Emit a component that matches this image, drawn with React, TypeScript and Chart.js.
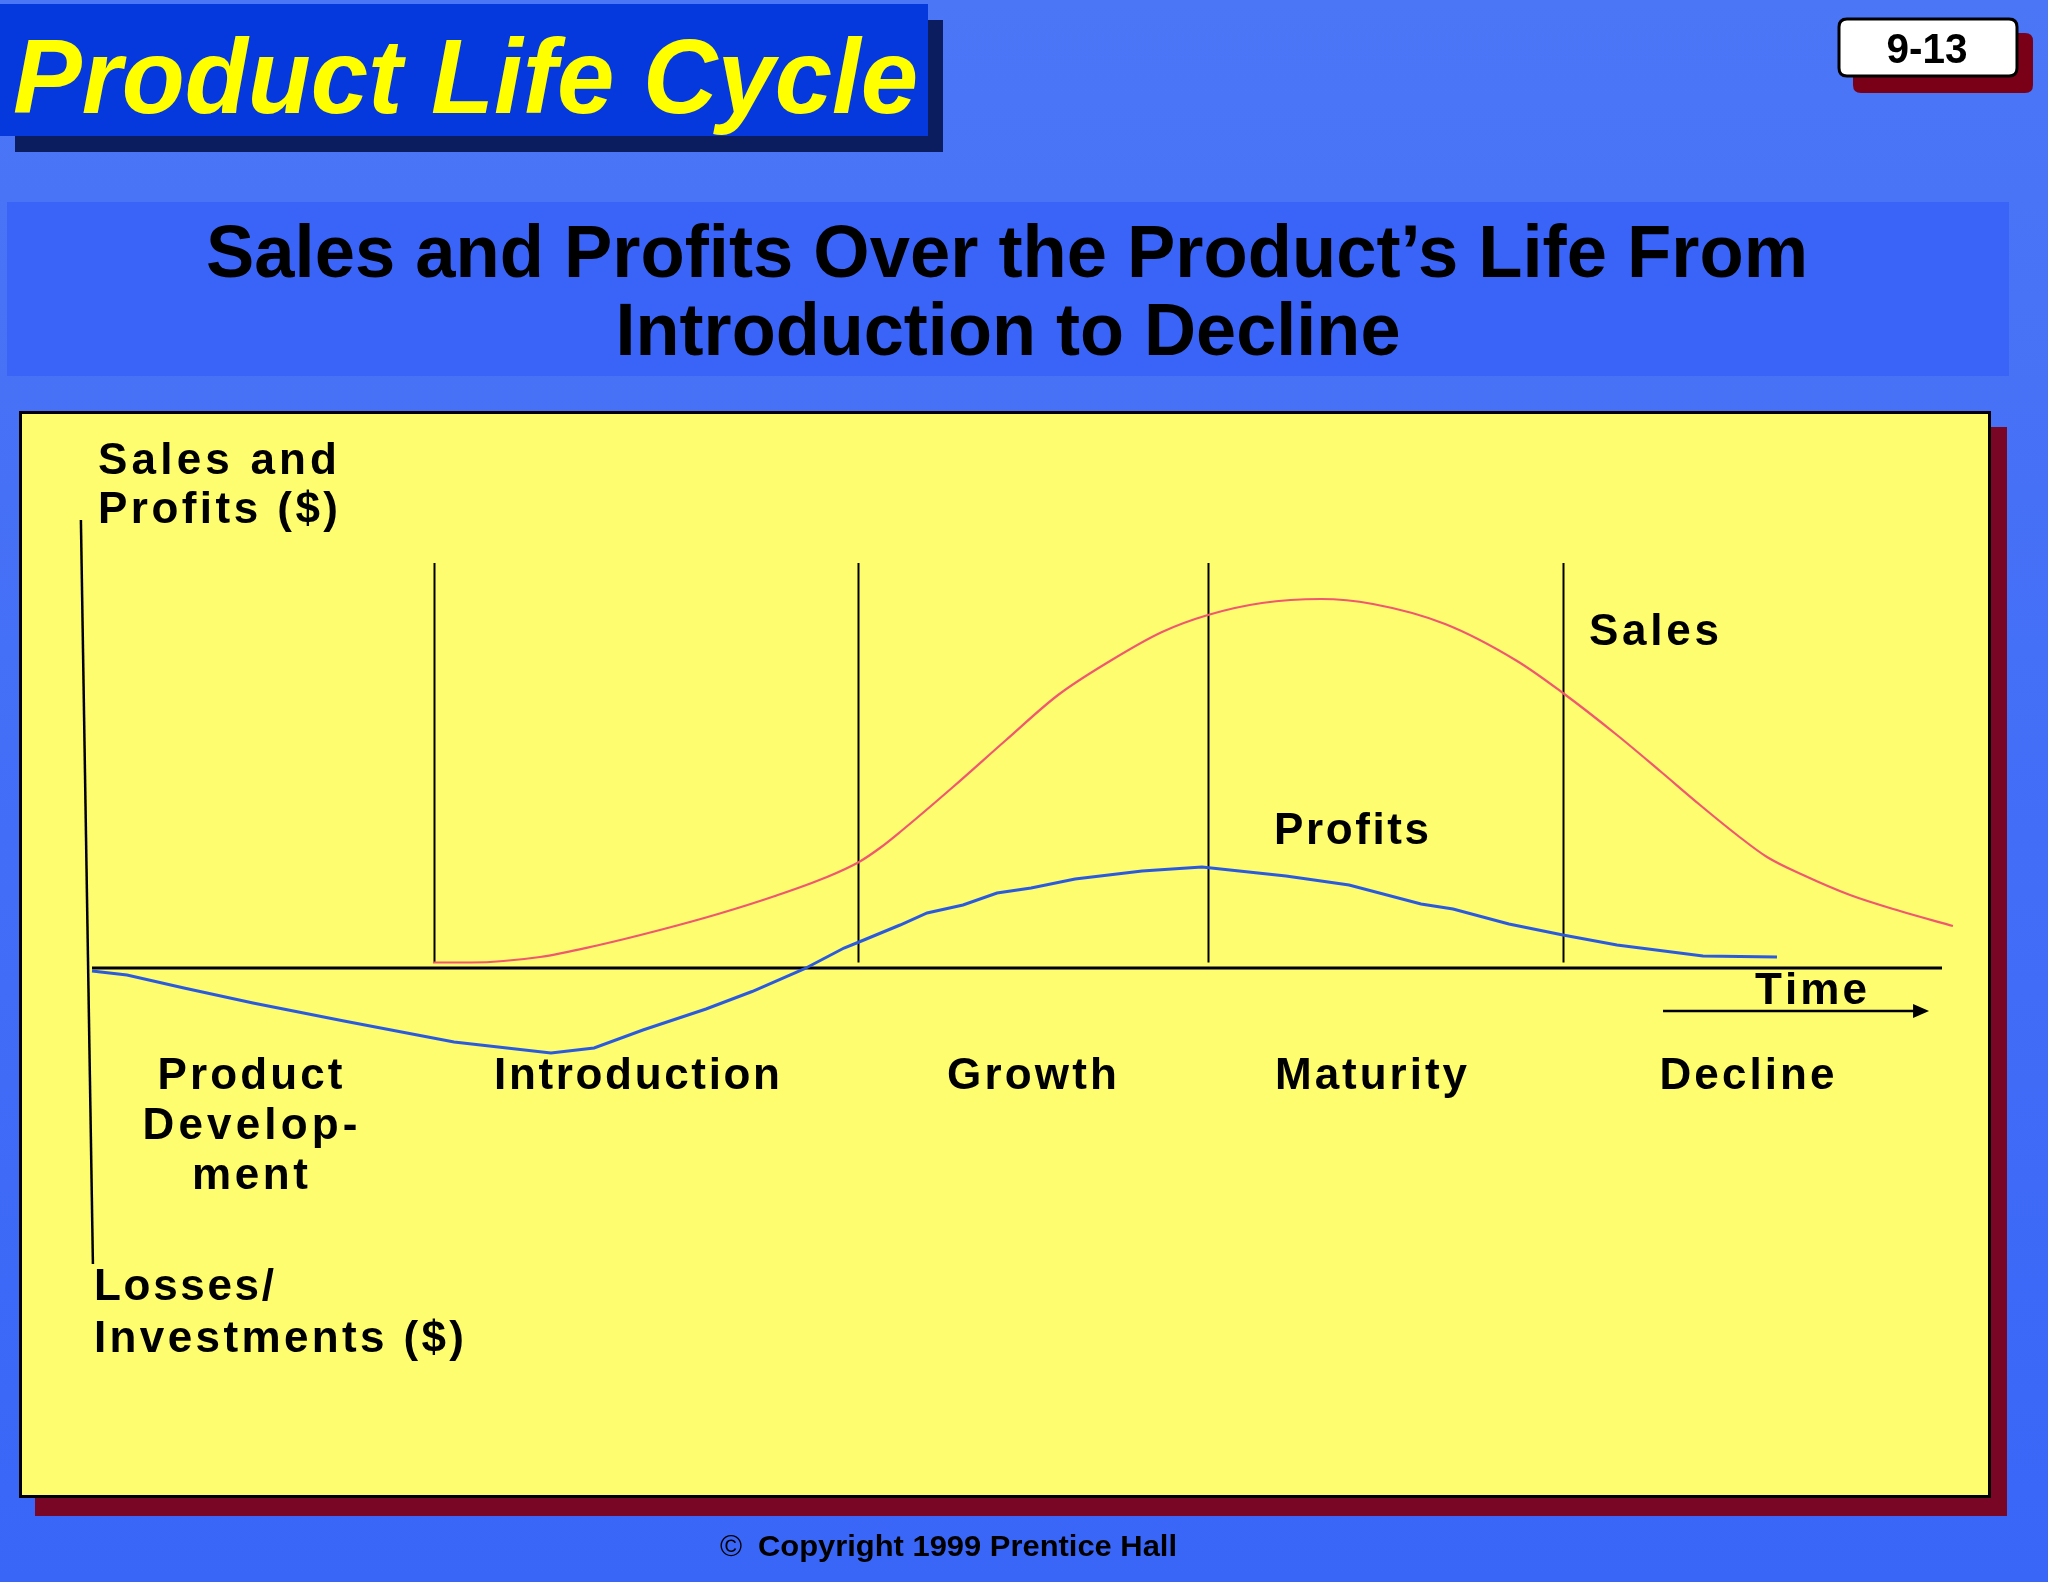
import React, { useEffect, useRef } from "react";
import { Chart, registerables } from "chart.js";

Chart.register(...registerables);

// ---- Data (time units on x, $ units on y) ----
const salesTime = [
  18.43, 20.49, 24.22, 27.3, 30.7, 33.84, 36.92, 39.73, 41.46, 42.59, 43.68, 46.54,
  49.41, 52.22, 55.03, 57.84, 60.32, 63.24, 66.43, 69.24, 73.14, 77.03, 79.51, 82.43,
  84.76, 86.92, 88.92, 90.54, 92.49, 95.03, 97.73, 100.59,
];
const salesValue = [
  1.38, 1.38, 2.75, 5.63, 9.5, 13.5, 18, 22.75, 26.5, 30, 34, 45.25,
  57, 68.25, 76.75, 84, 88.25, 91.25, 92.25, 91, 86, 76.75, 68.75, 58.25,
  49.25, 40.75, 33.25, 27.75, 23.25, 18.25, 14.25, 10.5,
];
const profitTime = [
  0, 1.89, 4.97, 8.7, 13.62, 19.57, 24.81, 27.14, 29.78, 33.19, 35.68, 38.49,
  40.65, 41.46, 43.68, 45.14, 47.08, 48.92, 50.76, 53.14, 56.76, 60.0, 64.54, 67.95,
  71.84, 73.57, 76.59, 79.51, 82.43, 87.08, 91.08,
];
const profitValue = [
  -0.75, -1.75, -5, -8.75, -13.25, -18.5, -21.25, -20, -15.5, -10.25, -5.88, -0.25,
  5, 6.5, 10.75, 13.75, 15.75, 18.75, 20, 22.25, 24.25, 25.25, 23, 20.75,
  16, 14.75, 11, 8.25, 5.75, 3, 2.75,
];
const stageBoundaries = [18.49, 41.41, 60.35, 79.49];
const stageLabels = [["Product", "Develop-", "ment"], ["Introduction"], ["Growth"], ["Maturity"], ["Decline"]];

const W = 2048;
const H = 1582;
const FONT = '"Liberation Sans", Arial, Helvetica, sans-serif';

function fitText(ctx: CanvasRenderingContext2D, text: string, x: number, y: number, font: string, width: number, align: "left" | "center" = "left") {
  ctx.save();
  ctx.font = font;
  ctx.textAlign = "left";
  ctx.textBaseline = "alphabetic";
  const m = ctx.measureText(text).width;
  const sx = width / m;
  const left = align === "center" ? x - width / 2 : x;
  ctx.translate(left, y);
  ctx.scale(sx, 1);
  ctx.fillText(text, 0, 0);
  ctx.restore();
}

function spacedText(ctx: CanvasRenderingContext2D, text: string, x: number, y: number, width: number, align: "left" | "center" = "left") {
  ctx.save();
  ctx.font = `bold 44px ${FONT}`;
  ctx.textAlign = "left";
  ctx.textBaseline = "alphabetic";
  ctx.fillStyle = "#000";
  const chars = Array.from(text);
  const widths = chars.map((c) => ctx.measureText(c).width);
  const total = widths.reduce((a, b) => a + b, 0);
  const gap = chars.length > 1 ? (width - total) / (chars.length - 1) : 0;
  let cx = align === "center" ? x - width / 2 : x;
  chars.forEach((c, i) => {
    ctx.fillText(c, cx, y);
    cx += widths[i] + gap;
  });
  ctx.restore();
}

function roundRect(ctx: CanvasRenderingContext2D, x: number, y: number, w: number, h: number, r: number) {
  ctx.beginPath();
  ctx.moveTo(x + r, y);
  ctx.lineTo(x + w - r, y);
  ctx.quadraticCurveTo(x + w, y, x + w, y + r);
  ctx.lineTo(x + w, y + h - r);
  ctx.quadraticCurveTo(x + w, y + h, x + w - r, y + h);
  ctx.lineTo(x + r, y + h);
  ctx.quadraticCurveTo(x, y + h, x, y + h - r);
  ctx.lineTo(x, y + r);
  ctx.quadraticCurveTo(x, y, x + r, y);
  ctx.closePath();
}

const slidePlugin = {
  id: "slide",
  beforeDraw(chart: any) {
    const ctx: CanvasRenderingContext2D = chart.ctx;
    ctx.save();
    const g = ctx.createLinearGradient(0, 0, 0, H);
    g.addColorStop(0, "#4b76f6");
    g.addColorStop(1, "#3a66f8");
    ctx.fillStyle = g;
    ctx.fillRect(0, 0, W, H);

    // title
    ctx.fillStyle = "#0b1d5e";
    ctx.fillRect(15, 20, 928, 132);
    ctx.fillStyle = "#0639dd";
    ctx.fillRect(0, 4, 928, 132);
    ctx.fillStyle = "#ffff00";
    fitText(ctx, "Product Life Cycle", 13, 113, `italic bold 106px ${FONT}`, 905);

    // badge
    ctx.fillStyle = "#7a0018";
    roundRect(ctx, 1853, 33, 180, 60, 8);
    ctx.fill();
    ctx.fillStyle = "#ffffff";
    roundRect(ctx, 1839, 19, 178, 57, 8);
    ctx.fill();
    ctx.lineWidth = 3;
    ctx.strokeStyle = "#000";
    ctx.stroke();
    ctx.fillStyle = "#000";
    fitText(ctx, "9-13", 1927, 63, `bold 43px ${FONT}`, 81, "center");

    // subtitle
    ctx.fillStyle = "#3a64f7";
    ctx.fillRect(7, 202, 2002, 174);
    ctx.fillStyle = "#000";
    fitText(ctx, "Sales and Profits Over the Product\u2019s Life From", 1007, 277, `bold 75px ${FONT}`, 1602, "center");
    fitText(ctx, "Introduction to Decline", 1008, 355, `bold 75px ${FONT}`, 785, "center");

    // panel
    ctx.fillStyle = "#7a0626";
    ctx.fillRect(35, 427, 1972, 1089);
    ctx.fillStyle = "#fefd6f";
    ctx.fillRect(19, 411, 1972, 1087);
    ctx.lineWidth = 3;
    ctx.strokeStyle = "#000";
    ctx.strokeRect(20.5, 412.5, 1969, 1084);

    // copyright
    ctx.fillStyle = "#000";
    ctx.font = `30px ${FONT}`;
    ctx.textBaseline = "alphabetic";
    ctx.textAlign = "left";
    ctx.fillText("\u00A9", 720, 1556);
    fitText(ctx, "Copyright 1999 Prentice Hall", 758, 1556, `bold 30px ${FONT}`, 419);
    ctx.restore();
  },
  beforeDatasetsDraw(chart: any) {
    const ctx: CanvasRenderingContext2D = chart.ctx;
    const xs = chart.scales.x;
    const ys = chart.scales.y;
    ctx.save();
    ctx.strokeStyle = "#000";
    // y axis (slightly slanted in the original)
    ctx.lineWidth = 2.5;
    ctx.beginPath();
    ctx.moveTo(xs.getPixelForValue(-0.6), ys.getPixelForValue(112));
    ctx.lineTo(xs.getPixelForValue(0.05), ys.getPixelForValue(-74));
    ctx.stroke();
    // x axis
    ctx.lineWidth = 3;
    ctx.beginPath();
    ctx.moveTo(xs.getPixelForValue(0), ys.getPixelForValue(0));
    ctx.lineTo(xs.getPixelForValue(100), ys.getPixelForValue(0));
    ctx.stroke();
    // stage boundaries
    ctx.lineWidth = 2;
    stageBoundaries.forEach((b) => {
      const px = Math.round(xs.getPixelForValue(b)) + 0.5;
      ctx.beginPath();
      ctx.moveTo(px, ys.getPixelForValue(101.25));
      ctx.lineTo(px, ys.getPixelForValue(1.4));
      ctx.stroke();
    });
    ctx.restore();
  },
  afterDatasetsDraw(chart: any) {
    const ctx: CanvasRenderingContext2D = chart.ctx;
    const xs = chart.scales.x;
    const ys = chart.scales.y;
    ctx.save();
    // axis titles
    spacedText(ctx, "Sales and", 98, 474, 239);
    spacedText(ctx, "Profits ($)", 98, 523, 240);
    spacedText(ctx, "Losses/", 94, 1300, 180);
    spacedText(ctx, "Investments ($)", 94, 1352, 370);
    // series labels
    spacedText(ctx, "Sales", 1589, 645, 130);
    spacedText(ctx, "Profits", 1274, 844, 155);
    spacedText(ctx, "Time", 1755, 1004, 112);
    // stage labels
    const centers = [250, 637, 1032, 1371, 1747];
    const widths: number[][] = [[185, 215, 116], [286], [170], [192], [175]];
    stageLabels.forEach((lines, i) => {
      lines.forEach((t, j) => {
        spacedText(ctx, t, centers[i], 1089 + j * 50, widths[i][j], "center");
      });
    });
    // time arrow
    const ay = ys.getPixelForValue(-10.75);
    const ax0 = xs.getPixelForValue(84.92);
    const ax1 = xs.getPixelForValue(99.3);
    ctx.strokeStyle = "#000";
    ctx.fillStyle = "#000";
    ctx.lineWidth = 2.5;
    ctx.beginPath();
    ctx.moveTo(ax0, ay);
    ctx.lineTo(ax1 - 12, ay);
    ctx.stroke();
    ctx.beginPath();
    ctx.moveTo(ax1, ay);
    ctx.lineTo(ax1 - 16, ay - 7);
    ctx.lineTo(ax1 - 16, ay + 7);
    ctx.closePath();
    ctx.fill();
    ctx.restore();
  },
};

export default function App() {
  const ref = useRef<HTMLCanvasElement | null>(null);
  useEffect(() => {
    if (!ref.current) return;
    const chart = new Chart(ref.current, {
      type: "scatter",
      data: {
        datasets: [
          {
            label: "Sales",
            data: salesTime.map((t, i) => ({ x: t, y: salesValue[i] })),
            showLine: true,
            borderColor: "#f0586f",
            borderWidth: 2.2,
            pointRadius: 0,
            cubicInterpolationMode: "monotone",
            fill: false,
            clip: false,
          },
          {
            label: "Profits",
            data: profitTime.map((t, i) => ({ x: t, y: profitValue[i] })),
            showLine: true,
            borderColor: "#2b5bdc",
            borderWidth: 3,
            pointRadius: 0,
            tension: 0,
            fill: false,
            clip: false,
          },
        ],
      } as any,
      options: {
        animation: false,
        responsive: false,
        devicePixelRatio: 1,
        events: [],
        layout: { autoPadding: false, padding: { left: 92, right: 69, top: 520, bottom: 318 } },
        plugins: { legend: { display: false }, tooltip: { enabled: false }, title: { display: false } },
        scales: {
          x: { type: "linear", min: 0, max: 102, display: false },
          y: { type: "linear", min: -74, max: 112, display: false },
        },
      } as any,
      plugins: [slidePlugin as any],
    });
    return () => chart.destroy();
  }, []);
  return (
    <div style={{ position: "absolute", left: 0, top: 0, width: W, height: H, overflow: "hidden" }}>
      <canvas ref={ref} width={W} height={H} style={{ display: "block", width: W, height: H }} />
    </div>
  );
}
